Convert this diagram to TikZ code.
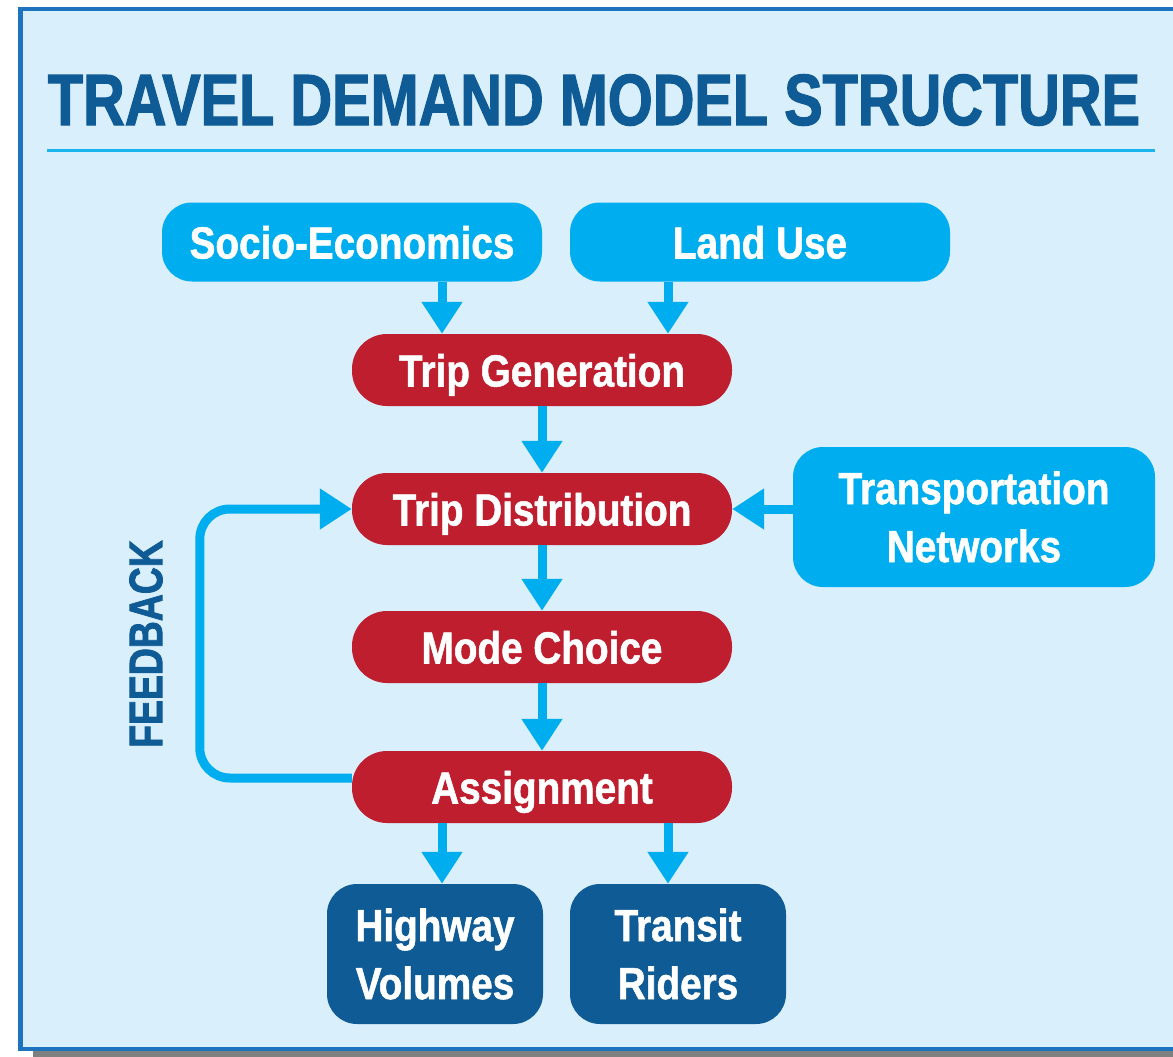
\documentclass[tikz,border=0pt]{standalone}
\usepackage{fontspec}
\usetikzlibrary{arrows.meta,positioning}

\newfontfamily\headfont{Liberation Sans}[FakeStretch=0.795,FakeBold=1.6]
\newfontfamily\boxfont{Liberation Sans}[FakeStretch=0.86,FakeBold=1.2]

\definecolor{paneblue}{HTML}{DAEFFC}
\definecolor{frameblue}{HTML}{1E73BE}
\definecolor{skyblue}{HTML}{00AEEF}
\definecolor{stagered}{HTML}{BE1E2D}
\definecolor{deepblue}{HTML}{0F5B96}
\definecolor{ruleblue}{HTML}{1CB4EC}

\tikzset{
  boxtext/.style={text=white,align=center,inner sep=0pt,
    font=\boxfont\bfseries\fontsize{45pt}{58pt}\selectfont},
  oneline/.style={text height=33pt,text depth=0pt},
  inputbox/.style={boxtext,fill=skyblue,rounded corners=30pt,
    minimum width=380pt,minimum height=79pt},
  stagebox/.style={boxtext,oneline,fill=stagered,rounded corners=35pt,
    minimum width=380pt,minimum height=72pt},
  outbox/.style={boxtext,fill=deepblue,rounded corners=30pt,
    minimum width=216pt,minimum height=140pt},
  flow/.style={draw=skyblue,line width=9pt,-{Triangle[width=39pt,length=32pt]}},
}

\begin{document}
\begin{tikzpicture}[x=1pt,y=-1pt]
\useasboundingbox (0,0) rectangle (1173,1057);
\clip (0,0) rectangle (1173,1057);

% panel with its shadow
\fill[black!50] (33,1051) rectangle (1190,1062);
\draw[frameblue,line width=4.5pt,fill=paneblue] (20.5,9) rectangle (1200,1049);

% heading
\node[anchor=base,text=deepblue,inner sep=0pt,
  font=\headfont\bfseries\fontsize{72.6pt}{80pt}\selectfont] (title) at (594,125)
  {TRAVEL DEMAND MODEL STRUCTURE};
\draw[ruleblue,line width=3pt] (47,150) -- (1155,150);

% inputs
\node[inputbox,oneline] (socio) at (352,242) {Socio-Economics};
\node[inputbox,oneline] (land) at (760,242) {Land Use};
\node[inputbox,minimum width=362pt,minimum height=140pt] (net) at (974,517) {Transportation\\Networks};

% four steps
\node[stagebox] (gen) at (542,370) {Trip Generation};
\node[stagebox] (dist) at (542,509) {Trip Distribution};
\node[stagebox] (mode) at (542,647) {Mode Choice};
\node[stagebox] (assign) at (542,787) {Assignment};

% outputs
\node[outbox] (hwy) at (435,954) {Highway\\Volumes};
\node[outbox] (transit) at (678,954) {Transit\\Riders};

% flows
\draw[flow] ([xshift=-100pt]gen.north |- socio.south) -- ([xshift=-100pt]gen.north);
\draw[flow] ([xshift=126pt]gen.north |- land.south) -- ([xshift=126pt]gen.north);
\draw[flow] (gen) -- (dist);
\draw[flow] (dist) -- (mode);
\draw[flow] (mode) -- (assign);
\draw[flow] (net.west |- dist.east) -- (dist.east);
\draw[flow] ([xshift=-100pt]assign.south) -- ([xshift=-100pt]assign.south |- hwy.north);
\draw[flow] ([xshift=126pt]assign.south) -- ([xshift=126pt]assign.south |- transit.north);

% loop back to distribution
\draw[flow,rounded corners=30pt] ([yshift=9pt]assign.west) -- ++(-152,0) |- (dist.west);
\node[rotate=90,text=deepblue,inner sep=0pt,
  font=\headfont\bfseries\fontsize{47pt}{50pt}\selectfont] (feedback) at (146,644) {FEEDBACK};
\end{tikzpicture}
\end{document}
